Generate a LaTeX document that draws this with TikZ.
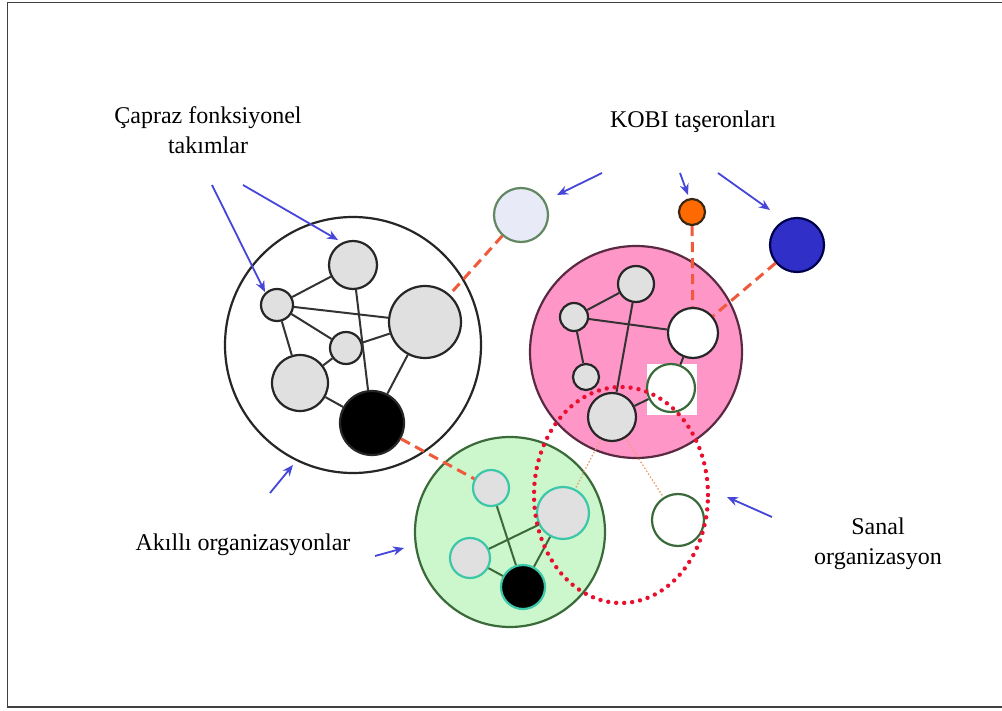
\documentclass[tikz,border=0pt]{standalone}
\usepackage{fontspec}
\setmainfont{Liberation Serif}
\usetikzlibrary{arrows.meta}
\definecolor{cgrey}{HTML}{E0E0E0}
\definecolor{cpink}{HTML}{FF96C8}
\definecolor{cpinkline}{HTML}{5A2A42}
\definecolor{cgreen}{HTML}{CCF6CC}
\definecolor{cgreenline}{HTML}{3A6A3A}
\definecolor{cteal}{HTML}{3CC8A8}
\definecolor{clav}{HTML}{E8EAF8}
\definecolor{cdash}{HTML}{F05A3A}
\definecolor{cdot}{HTML}{E8102E}
\definecolor{carrow}{HTML}{4646D8}
\definecolor{corange}{HTML}{FF6A00}
\definecolor{cblue}{HTML}{3030C8}
\definecolor{cthin}{HTML}{E8A070}
\begin{document}
\begin{tikzpicture}[x=1pt,y=-1pt,
  dot/.style={circle,inner sep=0pt,line width=2.2pt,draw=black!85},
  gdot/.style={dot,fill=cgrey},
  edge/.style={line width=2pt,draw=black!80},
  gedge/.style={line width=2pt,draw=cgreenline},
  tdot/.style={dot,draw=cteal,line width=2.2pt},
  redlink/.style={draw=cdash,line width=3pt,dash pattern=on 10pt off 6pt},
  thinlink/.style={draw=cthin,line width=1.3pt,dash pattern=on 1.5pt off 2pt},
  virt/.style={draw=cdot,line width=4.4pt,line cap=round,dash pattern=on 0pt off 8pt},
  pointer/.style={draw=carrow,line width=1.8pt,-{Stealth[length=11pt,width=9pt]}},
  lbl/.style={font=\fontsize{24}{27}\selectfont,inner sep=0pt,anchor=base}]
\useasboundingbox (0,0) rectangle (1002,711);
\fill[white] (0,0) rectangle (1002,711);
\draw[line width=1.8pt,black!75] (1010,2.5) -- (7.5,2.5) -- (7.5,707) -- (1010,707);

% organisations
\node[dot,fill=white,minimum size=256pt] (W) at (353,345) {};
\node[dot,fill=cpink,draw=cpinkline,minimum size=212pt] (P) at (636,352) {};
\node[dot,fill=cgreen,draw=cgreenline,minimum size=190pt] (G) at (510,532) {};

% white organisation
\node[gdot,minimum size=48pt] (w1) at (353,265) {};
\node[gdot,minimum size=32pt] (w2) at (277,305) {};
\node[gdot,minimum size=72pt] (w3) at (425,322) {};
\node[gdot,minimum size=32pt] (w4) at (346,348) {};
\node[gdot,minimum size=56pt] (w5) at (300,383) {};
\node[dot,fill=black,minimum size=64pt] (w6) at (372,423) {};
\foreach \a/\b in {w2/w1,w2/w3,w2/w4,w2/w5,w1/w6,w4/w3,w4/w5,w5/w6,w3/w6}
  \draw[edge] (\a) -- (\b);

% pink organisation
\fill[white] (647,364) rectangle (697,415);
\node[gdot,minimum size=36pt] (p1) at (636,284) {};
\node[gdot,minimum size=28pt] (p2) at (574,317) {};
\node[dot,fill=white,minimum size=50pt] (p3) at (693,333) {};
\node[gdot,minimum size=26pt] (p4) at (586,377) {};
\node[gdot,minimum size=48pt] (p5) at (612,417) {};
\node[dot,fill=white,draw=cgreenline,minimum size=48pt] (p6) at (671,388) {};
\foreach \a/\b in {p2/p1,p2/p3,p2/p4,p1/p5,p3/p6,p6/p5}
  \draw[edge] (\a) -- (\b);

% green organisation
\node[tdot,fill=cgrey,minimum size=36pt] (g1) at (491,488) {};
\node[tdot,fill=cgrey,minimum size=52pt] (g2) at (563,513) {};
\node[tdot,fill=cgrey,minimum size=40pt] (g3) at (470,558) {};
\node[tdot,fill=black,minimum size=44pt] (g4) at (523,587) {};
\foreach \a/\b in {g1/g4,g3/g2,g3/g4,g2/g4}
  \draw[gedge] (\a) -- (\b);

% outside partners
\node[dot,fill=clav,draw=cgreenline!80,minimum size=54pt] (L) at (521,215) {};
\node[dot,fill=corange,draw=black!70!brown,minimum size=26pt] (O) at (692,212) {};
\node[dot,fill=cblue,draw=black!70!blue,minimum size=54pt] (B) at (797,245) {};
\node[dot,fill=white,draw=cgreenline,minimum size=52pt] (ow) at (678,520) {};

% links
\draw[redlink] (L) -- (w3);
\draw[redlink] (O) -- (p3);
\draw[redlink] (B) -- (p3);
\draw[redlink] (w6) -- (g1);
\draw[thinlink] (p5) -- (g2);
\draw[thinlink] (p5) -- (ow);

% virtual organisation
\coordinate (V) at (621,495);
\draw[virt] (V) ellipse [x radius=87pt,y radius=108pt];

% labels
\node[lbl] (t1) at (208,124) {Çapraz fonksiyonel};
\node[lbl] (t2) at (208,154) {takımlar};
\node[lbl] (t3) at (693,128) {KOBI taşeronları};
\node[lbl] (t4) at (243,550) {Akıllı organizasyonlar};
\node[lbl] (t5) at (878,534) {Sanal};
\node[lbl] (t6) at (878,564) {organizasyon};

% pointers
\coordinate (a1s) at (212,185); \coordinate (a1e) at (265,292);
\coordinate (a2s) at (243,185); \coordinate (a2e) at (338,240);
\coordinate (a3s) at (602,173); \coordinate (a3e) at (557,195);
\coordinate (a4s) at (680,173); \coordinate (a4e) at (688,195);
\coordinate (a5s) at (718,173); \coordinate (a5e) at (770,210);
\coordinate (a6s) at (270,493); \coordinate (a6e) at (293,465);
\coordinate (a7s) at (375,556); \coordinate (a7e) at (404,548);
\coordinate (a8s) at (772,517); \coordinate (a8e) at (727,497);
\foreach \i in {1,...,8} \draw[pointer] (a\i s) -- (a\i e);
\end{tikzpicture}
\end{document}
